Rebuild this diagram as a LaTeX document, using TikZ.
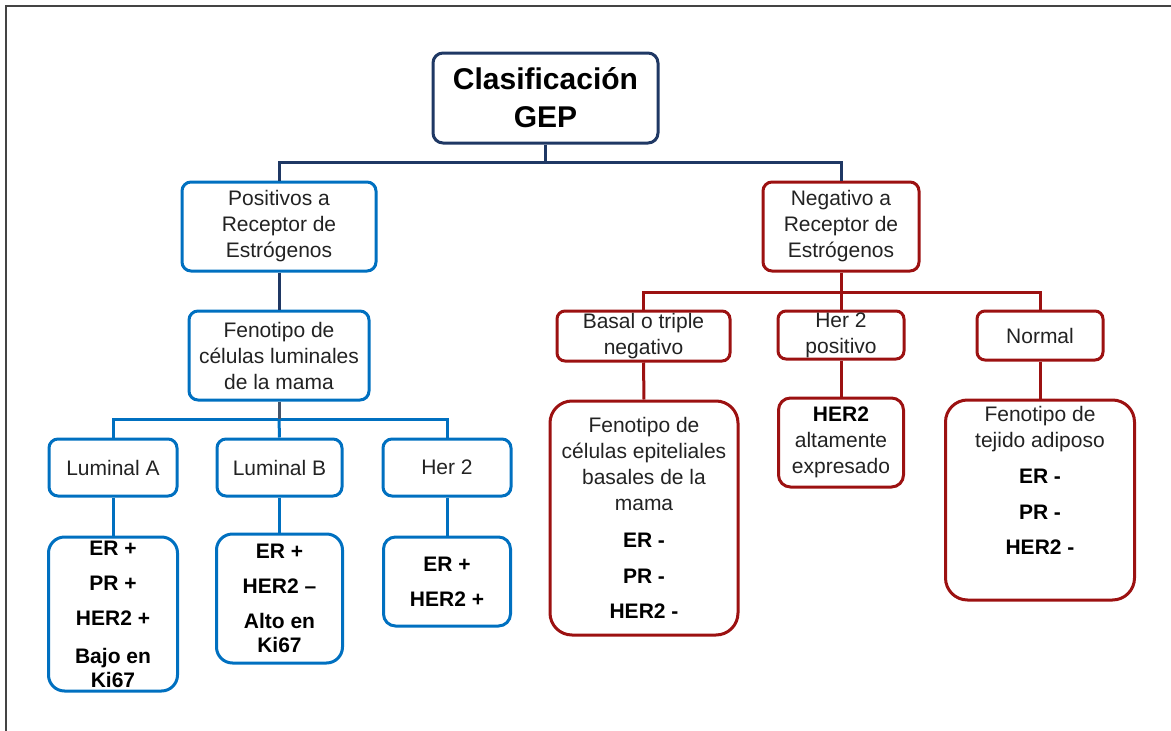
\documentclass[tikz,border=0pt]{standalone}
\usepackage{fontspec}
\setmainfont{Liberation Sans}
\definecolor{cnavy}{HTML}{1F3864}
\definecolor{cblue}{HTML}{0070C0}
\definecolor{cred}{HTML}{9C1111}
\definecolor{cslate}{HTML}{44546A}
\definecolor{ctxt}{HTML}{222222}
\definecolor{cframe}{HTML}{444444}
\begin{document}
\begin{tikzpicture}[x=1pt,y=-1pt,
  box/.style={rectangle, draw, line width=3pt, inner sep=0pt, align=center, text=ctxt,
    font=\fontsize{21}{26}\selectfont, rounded corners=9pt},
  bluebox/.style={box, draw=cblue},
  redbox/.style={box, draw=cred},
  boldtxt/.style={font=\bfseries\fontsize{21}{26}\selectfont, text=black},
  conn/.style={line width=3pt}
]
\useasboundingbox (0,0) rectangle (1171,731);
\draw[cframe, line width=1.5pt] (6,731) -- (6,6) -- (1171,6);

% top
\node[box, draw=cnavy, minimum width=225pt, minimum height=90pt, rounded corners=10pt,
  font=\bfseries\fontsize{30}{38}\selectfont, text=black] (gep) at (545.5,98) {Clasificación\\GEP};

% left branch
\node[bluebox, minimum width=194pt, minimum height=89pt] (pos) at (279,226.5) {Positivos a\\Receptor de\\Estrógenos};
\node[bluebox, minimum width=180pt, minimum height=89pt] (fen) at (279,355.5) {Fenotipo de\\células luminales\\de la mama};
\node[bluebox, minimum width=128pt, minimum height=57pt] (la) at (113,467.5) {Luminal A};
\node[bluebox, minimum width=125pt, minimum height=57pt] (lb) at (279.5,467.5) {Luminal B};
\node[bluebox, minimum width=128pt, minimum height=57pt] (her) at (447,467.5) {Her 2};
\node[bluebox, boldtxt, minimum width=129pt, minimum height=154pt, rounded corners=16pt] (lad) at (113,614)
  {ER +\\[9pt]PR +\\[9pt]HER2 +\\[12pt]Bajo en\\[-2pt]Ki67};
\node[bluebox, boldtxt, minimum width=126pt, minimum height=129pt, rounded corners=16pt] (lbd) at (279.5,598.5)
  {ER +\\[9pt]HER2 –\\[9pt]Alto en\\[-2pt]Ki67};
\node[bluebox, boldtxt, minimum width=127pt, minimum height=89pt, rounded corners=12pt] (herd) at (447,581.5)
  {ER +\\[9pt]HER2 +};

% right branch
\node[redbox, minimum width=156pt, minimum height=89pt] (neg) at (841,226.5) {Negativo a\\Receptor de\\Estrógenos};
\node[redbox, minimum width=173pt, minimum height=50pt, rounded corners=8pt] (basal) at (643.5,336) {Basal o triple\\negativo};
\node[redbox, minimum width=126pt, minimum height=48pt, rounded corners=8pt] (h2p) at (841,335) {Her 2\\positivo};
\node[redbox, minimum width=126pt, minimum height=49pt, rounded corners=8pt] (nor) at (1040,335.5) {Normal};
\node[redbox, minimum width=188pt, minimum height=234pt, rounded corners=22pt] (basd) at (644,518)
  {Fenotipo de\\células epiteliales\\basales de la\\mama\\[11pt]\textbf{\color{black}ER -}\\[10pt]\textbf{\color{black}PR -}\\[9pt]\textbf{\color{black}HER2 -}};
\node[redbox, minimum width=125pt, minimum height=89pt, rounded corners=12pt] (h2d) at (841,442.5)
  {\textbf{\color{black}HER2}\\altamente\\expresado};
\node[redbox, minimum width=189pt, minimum height=200pt, rounded corners=22pt] (nord) at (1040,500) {};
\node[anchor=north, inner sep=0pt, align=center, text=ctxt, font=\fontsize{21}{26}\selectfont] (nordt) at (1040,406)
  {Fenotipo de\\tejido adiposo\\[10pt]\textbf{\color{black}ER -}\\[10pt]\textbf{\color{black}PR -}\\[9pt]\textbf{\color{black}HER2 -}};

% connectors
\coordinate (j1) at (545.5,162);
\coordinate (j3) at (279,419);
\coordinate (j2) at (841,292);
\draw[conn, cnavy] (gep.south) -- (j1);
\draw[conn, cnavy] (pos.north) |- (j1) -| (neg.north);
\draw[conn, cnavy] (pos.south) -- (fen.north);
\draw[conn, cblue] (la.north) |- (j3) -| (her.north);
\draw[conn, cblue] (lb.north) -- (j3);
\draw[conn, cslate] (fen.south) -- (j3);
\draw[conn, cblue] (la.south) -- (lad.north);
\draw[conn, cblue] (lb.south) -- (lbd.north);
\draw[conn, cblue] (her.south) -- (herd.north);
\draw[conn, cred] (neg.south) -- (j2);
\draw[conn, cred] (basal.north) |- (j2) -| (nor.north);
\draw[conn, cred] (h2p.north) -- (j2);
\draw[conn, cred] (basal.south) -- (basd.north);
\draw[conn, cred] (h2p.south) -- (h2d.north);
\draw[conn, cred] (nor.south) -- (nord.north);
\end{tikzpicture}
\end{document}
